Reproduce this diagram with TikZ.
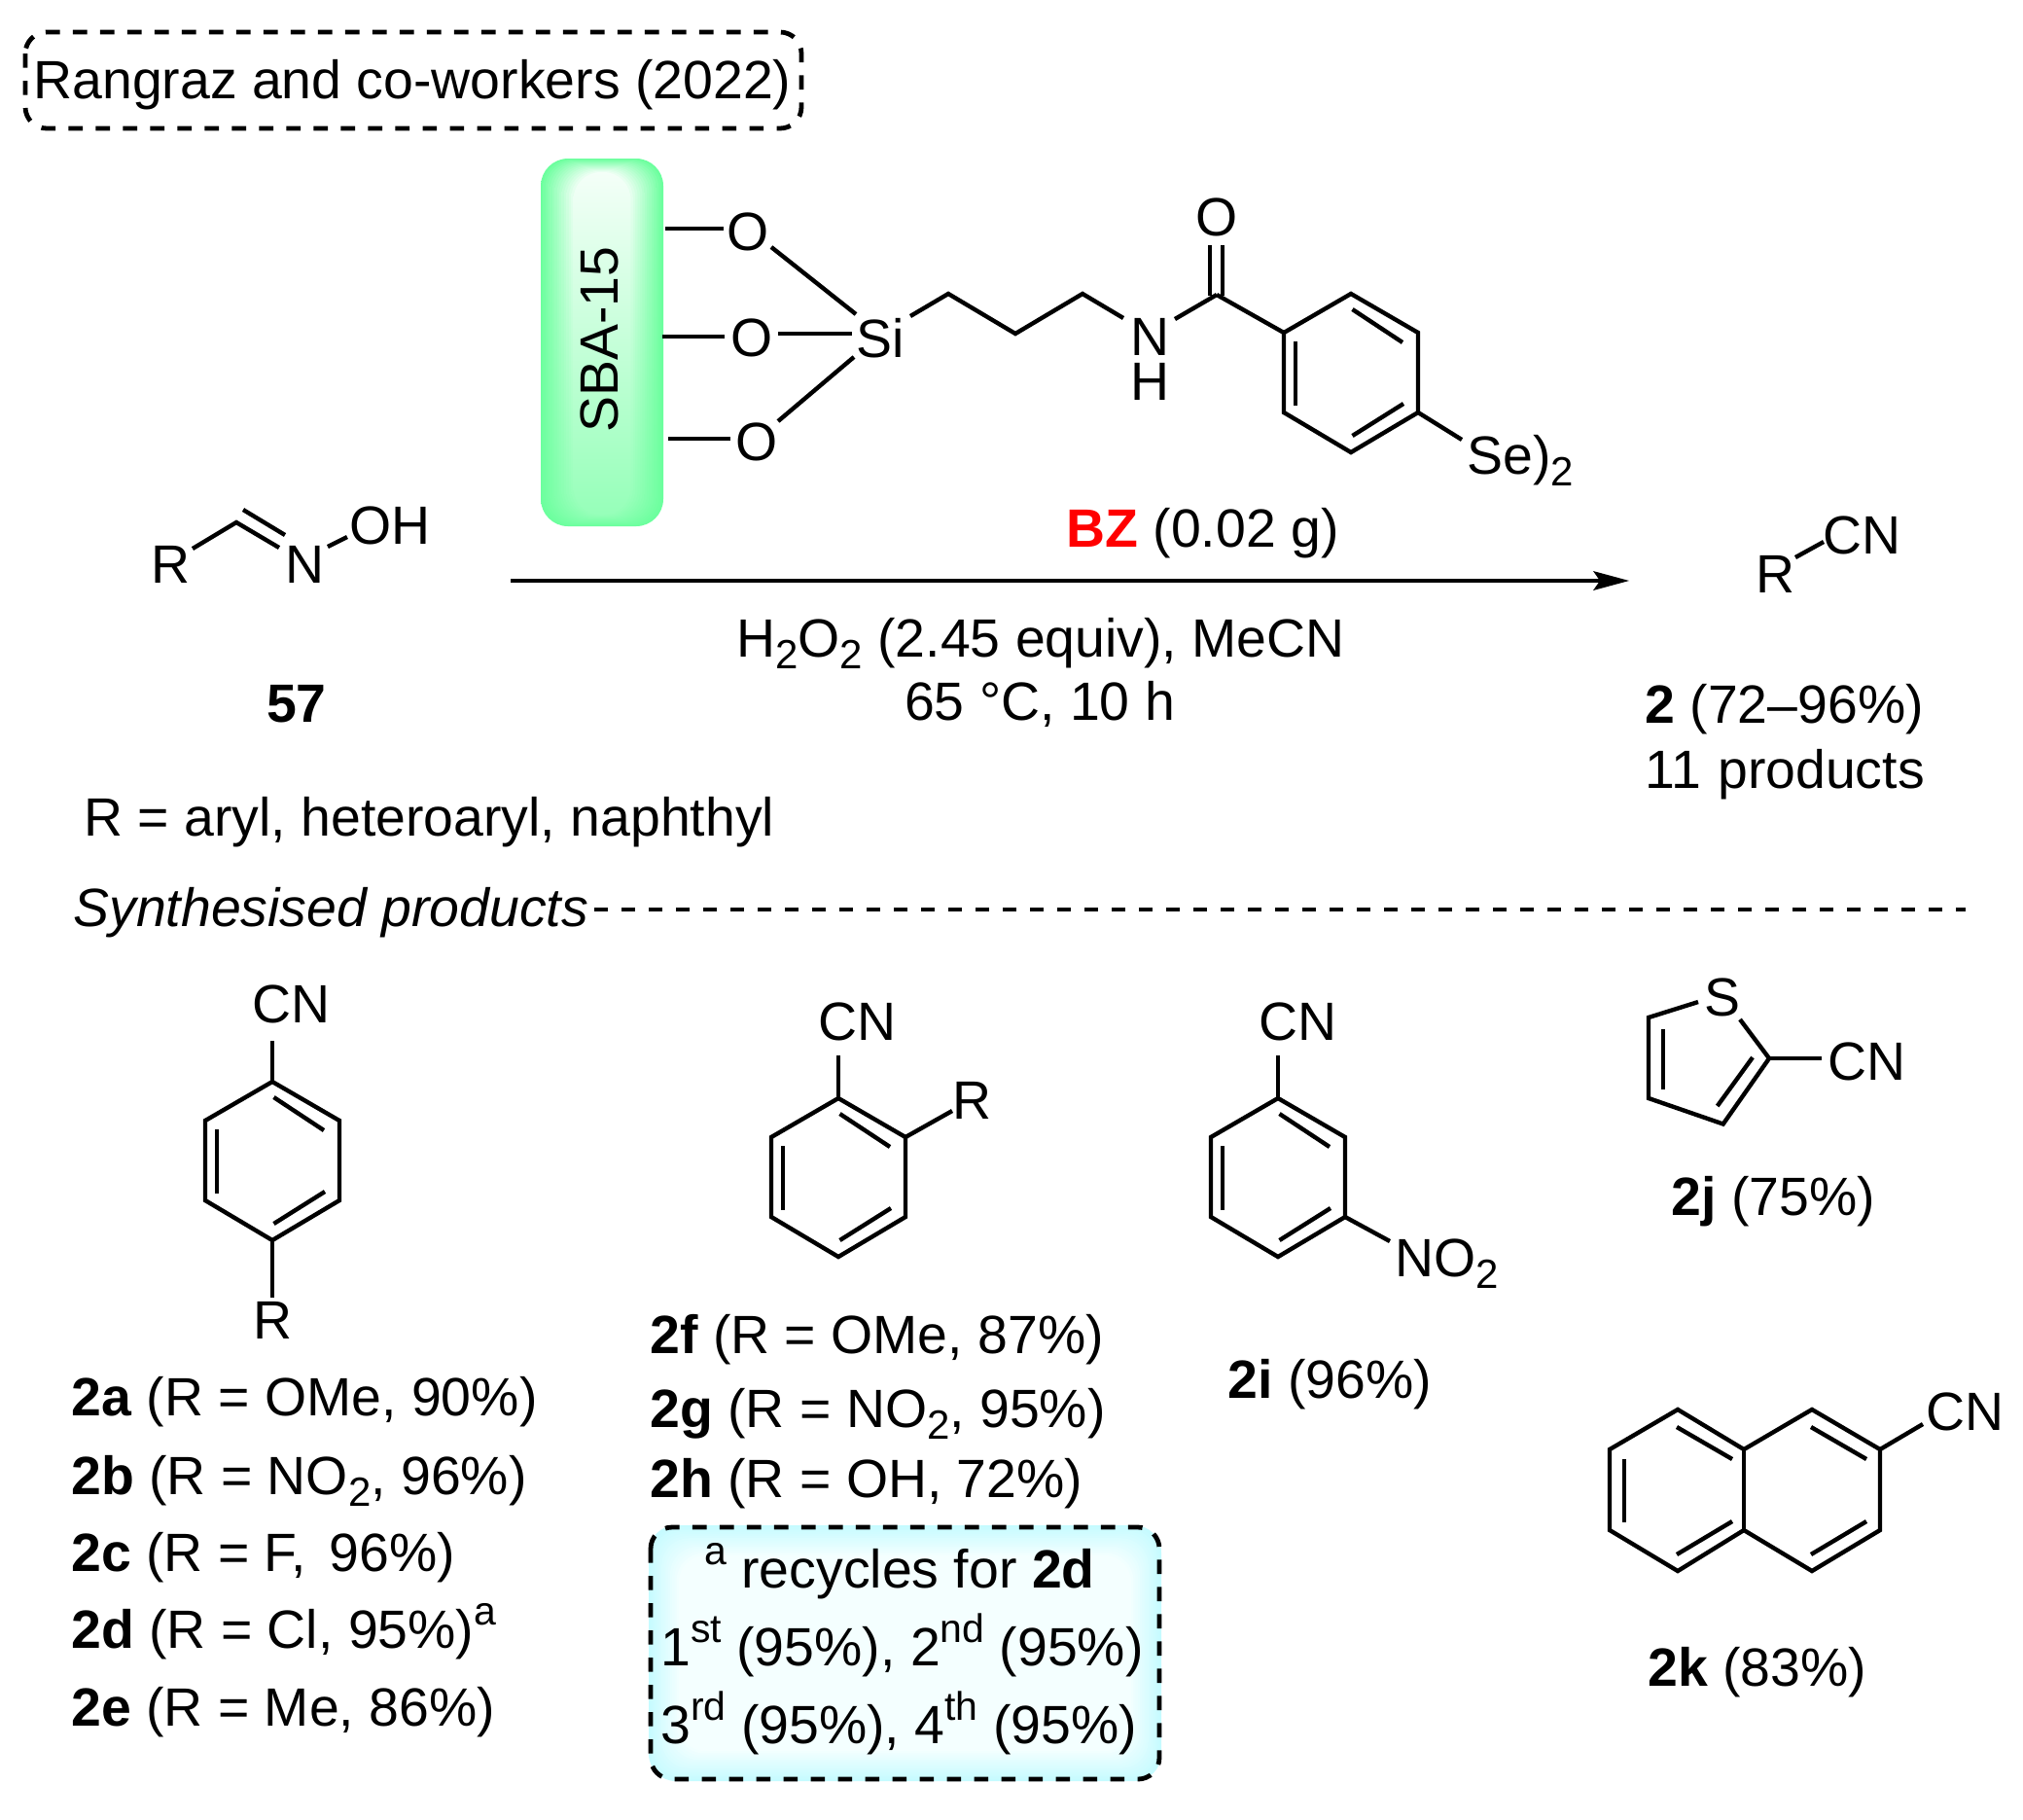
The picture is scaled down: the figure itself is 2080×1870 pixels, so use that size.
\documentclass[tikz,border=0pt]{standalone}
\usepackage{fontspec}
\setmainfont{Liberation Sans}
\definecolor{sbaedge}{HTML}{6CFF9E}
\definecolor{sbalow}{HTML}{96FFB9}
\definecolor{sbatop}{HTML}{F4FFF8}
\definecolor{cyanedge}{HTML}{C6FBFF}
\definecolor{cyanmid}{HTML}{F4FFFF}
\newcommand{\sbs}[1]{\raisebox{-0.22em}{\fontsize{21}{21}\selectfont #1}}
\newcommand{\sps}[1]{\raisebox{0.42em}{\fontsize{20.5}{21}\selectfont #1}}
\newcommand{\benz}[3]{%
  \begin{scope}[shift={(#2,#3)}]
    \coordinate (#1t) at (0,0);
    \coordinate (#1ur) at (69,40);
    \coordinate (#1lr) at (69,122);
    \coordinate (#1b) at (0,163);
    \coordinate (#1ll) at (-69,122);
    \coordinate (#1ul) at (-69,40);
    \draw[bond] (#1t) -- (#1ur) -- (#1lr) -- (#1b) -- (#1ll) -- (#1ul) -- cycle;
    \draw[bond] (1.5,16) -- (53,50);
    \draw[bond] (-57,49) -- (-57,115);
    \draw[bond] (1.5,146) -- (54,113);
  \end{scope}}
\tikzset{
  bond/.style={line width=2.2pt,line join=miter,line cap=butt},
  lbl/.style={anchor=base west,inner sep=0pt,font=\fontsize{27.7}{28}\selectfont},
  clbl/.style={anchor=base,inner sep=0pt,font=\fontsize{27.7}{28}\selectfont},
  dashbox/.style={line width=2.4pt,dash pattern=on 7.3pt off 6.7pt,rounded corners=11pt}
}
\begin{document}
\begin{tikzpicture}[x=0.5pt,y=-0.5pt]
\useasboundingbox (0,0) rectangle (2080,1870);
% title box
\draw[dashbox] (26,33) rectangle (824,132);
\node[lbl] (title) at (34,101) {Rangraz and co-workers (2022)};
% SBA support
\foreach \i in {0,...,14}{
  \pgfmathsetmacro{\m}{\i/14*100}
  \shade[rounded corners=14pt,top color=sbatop!\m!sbaedge,bottom color=sbalow!\m!sbaedge]
    (556+\i*2.4,163+\i*1) rectangle (682-\i*2.4,541-\i*0.8);
}
\node[clbl,anchor=center,rotate=90] (sba) at (616,349) {SBA-15};
\node[clbl] (o1) at (769,257) {O};
\node[clbl] (o2) at (773,366) {O};
\node[clbl] (o3) at (778,473) {O};
\node[clbl] (si) at (905,367) {Si};
\node[anchor=north,inner sep=0pt,align=center,font=\fontsize{27.7}{23}\selectfont] (nh) at (1182,327) {N\\H};
\node[clbl] (oc) at (1251,242) {O};
\node[lbl] (se) at (1508,487) {Se)\sbs{2}};
\coordinate (c1) at (975,302);
\coordinate (c2) at (1044,343);
\coordinate (c3) at (1113,302);
\coordinate (cc) at (1251,303);
\draw[bond] (684,235) -- (744,235);
\draw[bond] (681,346) -- (745,346);
\draw[bond] (687,451) -- (751,451);
\draw[bond] (793,254) -- (880,323);
\draw[bond] (800,343) -- (876,343);
\draw[bond] (800,433) -- (878,367);
\draw[bond] (936,325) -- (c1) -- (c2) -- (c3) -- (1155,327);
\draw[bond] (1208,328) -- (cc);
\draw[bond] (1244,252) -- (1244,304);
\draw[bond] (1257,252) -- (1257,304);
\benz{bz}{1389}{302}
\draw[bond] (cc) -- (bzul);
\draw[bond] (bzlr) -- (1503,452);
\node[lbl] (bzlabel) at (1096,562) {\textbf{\textcolor{red}{BZ}} (0.02 g)};
% arrow
\coordinate (arrs) at (525,597);
\coordinate (arre) at (1675,597);
\draw[line width=2.4pt] (arrs) -- (1645,597);
\fill (arre) -- (1638,587) -- (1645,597) -- (1638,607) -- cycle;
\node[clbl] (cond1) at (1070,675) {H\sbs{2}O\sbs{2} (2.45 equiv), MeCN};
\node[clbl] (cond2) at (1069,740) {65 °C, 10 h};
% oxime
\node[clbl] (r0) at (176,599) {R};
\node[clbl] (n0) at (313,599) {N};
\node[lbl] (oh) at (359,559) {OH};
\coordinate (c0) at (243,537);
\draw[bond] (198,564) -- (c0) -- (287,563);
\draw[bond] (250,524) -- (293,550);
\draw[bond] (337,562) -- (357,552);
\node[clbl] (l57) at (305,742) {\textbf{57}};
\node[lbl] (rdef) at (86,859) {R = aryl, heteroaryl, naphthyl};
% product
\node[clbl] (r2) at (1825,609) {R};
\node[lbl] (cn2) at (1874,569) {CN};
\draw[bond] (1846,573) -- (1875,557);
\node[lbl] (l2) at (1691,743) {\textbf{2} (72–96\%)};
\node[lbl] (l2b) at (1691,810) {11\kern1pt\ products};
% divider
\node[lbl] (syn) at (75,952) {\itshape Synthesised products};
\coordinate (dashend) at (2021,935);
\draw[line width=2pt,dash pattern=on 6.8pt off 7.2pt] (611,935) -- (dashend);
% 2a-e
\node[clbl] (cna) at (300,1051) {CN};
\benz{a}{280}{1112}
\draw[bond] (280,1070) -- (at);
\draw[bond] (ab) -- (280,1334);
\node[clbl] (ra) at (280,1376) {R};
\node[lbl] (la) at (73,1455) {\textbf{2a} (R = OMe, 90\%)};
\node[lbl] (lb) at (73,1536) {\textbf{2b} (R = NO\sbs{2}, 96\%)};
\node[lbl] (lc) at (73,1615) {\textbf{2c} (R = F,\kern4pt\ 96\%)};
\node[lbl] (ld) at (73,1694) {\textbf{2d} (R = Cl, 95\%)\sps{a}};
\node[lbl] (le) at (73,1774) {\textbf{2e} (R = Me, 86\%)};
% 2f-h
\node[clbl] (cnf) at (881,1069) {CN};
\benz{f}{862}{1129}
\draw[bond] (862,1085) -- (ft);
\draw[bond] (fur) -- (979,1142);
\node[clbl] (rf) at (999,1150) {R};
\node[lbl] (lf) at (668,1391) {\textbf{2f} (R = OMe, 87\%)};
\node[lbl] (lg) at (668,1467) {\textbf{2g} (R = NO\sbs{2}, 95\%)};
\node[lbl] (lh) at (668,1539) {\textbf{2h} (R = OH, 72\%)};
% recycle box
\foreach \i in {0,...,14}{
  \pgfmathsetmacro{\m}{\i/14*100}
  \fill[cyanmid!\m!cyanedge,rounded corners=14pt]
    (667+\i*2.2,1568+\i*2.2) rectangle (1194-\i*2.2,1831-\i*2.2);
}
\draw[dashbox] (669,1570) rectangle (1192,1829);
\node[clbl] (rec1) at (925,1632) {\sps{a} recycles for \textbf{2d}};
\node[lbl] (rec2) at (679,1712) {1\sps{st} (95\%), 2\sps{nd} (95\%)};
\node[lbl] (rec3) at (679,1792) {3\sps{rd} (95\%), 4\sps{th} (95\%)};
% 2i
\node[clbl] (cni) at (1334,1069) {CN};
\benz{i}{1314}{1129}
\draw[bond] (1314,1085) -- (it);
\draw[bond] (ilr) -- (1429,1276);
\node[lbl] (no2) at (1434,1312) {NO\sbs{2}};
\node[lbl] (li) at (1262,1437) {\textbf{2i} (96\%)};
% 2j
\node[clbl] (s) at (1771,1044) {S};
\node[lbl] (cnj) at (1879,1110) {CN};
\coordinate (t1) at (1695,1046);
\coordinate (t2) at (1695,1129);
\coordinate (t3) at (1771.7,1155.5);
\coordinate (t4) at (1819,1088);
\draw[bond] (1746,1030) -- (t1) -- (t2) -- (t3) -- (t4) -- (1789,1048);
\draw[bond] (1710,1058) -- (1710,1120);
\draw[bond] (1765.7,1137) -- (1802,1087);
\draw[bond] (t4) -- (1873,1088);
\node[lbl] (lj) at (1718,1249) {\textbf{2j} (75\%)};
% 2k
\coordinate (k1) at (1655,1490);
\coordinate (k2) at (1725,1449);
\coordinate (k3) at (1793,1490);
\coordinate (k4) at (1863,1449);
\coordinate (k5) at (1933,1490);
\coordinate (k6) at (1933,1573);
\coordinate (k7) at (1863,1615);
\coordinate (k8) at (1793,1573);
\coordinate (k9) at (1725,1615);
\coordinate (k10) at (1655,1573);
\draw[bond] (k1) -- (k2) -- (k3) -- (k4) -- (k5) -- (k6) -- (k7) -- (k8) -- (k9) -- (k10) -- cycle;
\draw[bond] (k3) -- (k8);
\draw[bond] (1724,1467) -- (1781,1500);
\draw[bond] (1670,1500) -- (1670,1565);
\draw[bond] (1724,1598) -- (1781,1564);
\draw[bond] (1862,1467) -- (1919,1500);
\draw[bond] (1862,1598) -- (1919,1564);
\draw[bond] (k5) -- (1977,1464);
\node[lbl] (cnk) at (1980,1470) {CN};
\node[lbl] (lk) at (1694,1733) {\textbf{2k} (83\%)};
\end{tikzpicture}
\end{document}
